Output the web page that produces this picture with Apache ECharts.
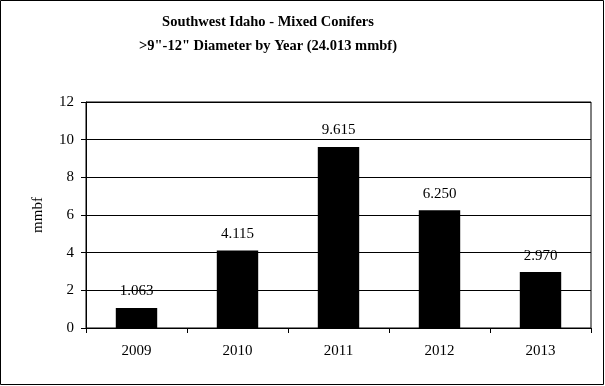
<!DOCTYPE html>
<html><head><meta charset="utf-8">
<script src="https://cdn.jsdelivr.net/npm/echarts@6/dist/echarts.min.js"></script>
<style>html,body{margin:0;padding:0;background:#fff}#c{width:605px;height:386px}</style>
</head><body><div id="c"></div>
<script>
const categories = ['2009','2010','2011','2012','2013'];
const values = [1.063, 4.115, 9.615, 6.250, 2.970];
const titleLines = ['Southwest Idaho - Mixed Conifers', '>9"-12" Diameter by Year (24.013 mmbf)'];
const yName = 'mmbf';
const font = '"Liberation Serif", "Times New Roman", serif';
const chart = echarts.init(document.getElementById('c'), null, {renderer:'canvas'});
chart.setOption({
  animation:false,
  backgroundColor:'#fff',
  title:{text:titleLines.join('\n'), left:263, top:5, textAlign:'center',
    textStyle:{fontFamily:font, fontSize:14.5, fontWeight:'bold', color:'#000', lineHeight:24}},
  graphic:[{type:'rect', shape:{x:0.5,y:0.5,width:603,height:384}, style:{fill:null, stroke:'#000', lineWidth:1}, z:-1}],
  grid:{left:86, right:14, top:102, bottom:58, show:true, borderColor:'#000', borderWidth:1, backgroundColor:'transparent'},
  xAxis:{type:'category', data:categories, boundaryGap:true,
    axisLine:{lineStyle:{color:'#000', width:1}},
    axisTick:{show:true, alignWithLabel:false, length:5, lineStyle:{color:'#000'}},
    axisLabel:{fontFamily:font, fontSize:15, color:'#000', margin:16}},
  yAxis:{type:'value', min:0, max:12, interval:2, name:yName, nameLocation:'middle', nameRotate:90, nameGap:40,
    nameTextStyle:{fontFamily:font, fontSize:15, color:'#000'},
    axisLine:{show:true, lineStyle:{color:'#000', width:1}},
    axisTick:{show:true, length:5, lineStyle:{color:'#000'}},
    axisLabel:{fontFamily:font, fontSize:15, color:'#000', margin:12},
    splitLine:{show:true, lineStyle:{color:'#000', width:1}}},
  series:[{type:'bar', data:values, barWidth:'41%', itemStyle:{color:'#000'},
    label:{show:true, position:'top', distance:9, fontFamily:font, fontSize:15, color:'#000',
      formatter:p=>p.value.toFixed(3)}}]
});
</script></body></html>
